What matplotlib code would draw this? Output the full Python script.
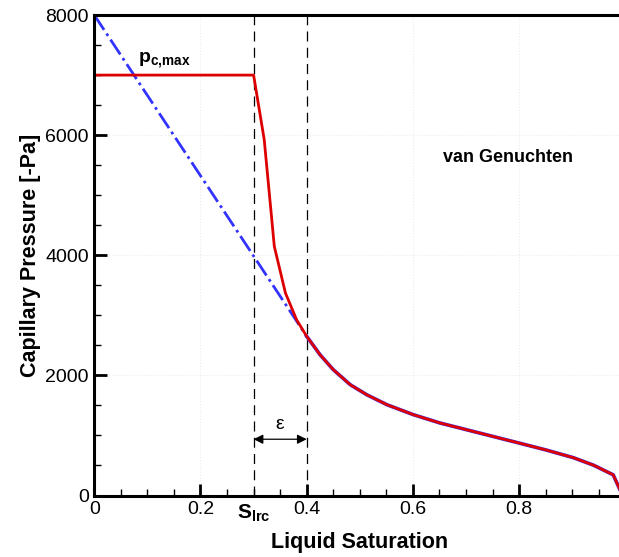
import numpy as np
from matplotlib import pyplot as plt
from matplotlib.ticker import MultipleLocator

plt.rcParams['font.family'] = ['Liberation Sans', 'DejaVu Sans']
plt.rcParams['mathtext.fontset'] = 'custom'
plt.rcParams['mathtext.rm'] = 'Liberation Sans'
plt.rcParams['mathtext.bf'] = 'Liberation Sans:bold'

# modified curve (red): capped at pc,max, steep ramp to the vG curve at S=0.4
s_mod = [0.0, 0.30, 0.320, 0.339, 0.360, 0.381, 0.40]
pc_mod = [7000, 7000, 5925, 4147, 3370, 2925, 2650]

# van Genuchten part
s_vg = [0.400, 0.425, 0.450, 0.482, 0.513, 0.551, 0.601, 0.651, 0.701,
        0.751, 0.800, 0.852, 0.902, 0.940, 0.977, 0.987, 0.995]
pc_vg = [2650, 2345, 2095, 1845, 1678, 1512, 1345, 1207, 1095,
         983, 873, 755, 630, 505, 345, 150, 0]

# linear extension (blue dash-dot)
s_lin = [0.0, 0.40]
pc_lin = [8000, 2650]

s_lrc = 0.3
s_eps = 0.4


def main():
    fig = plt.figure(figsize=(6.19, 5.57), dpi=100)
    # right edge of the frame lies just outside the picture (cropped original)
    ax = fig.add_axes([0.1523, 0.1104, 0.858, 0.8626])

    ax.grid(True, which='major', color='#ececec', ls=':', lw=0.8)
    ax.set_axisbelow(True)

    ax.axvline(s_lrc, color='k', ls=(0, (8, 5)), lw=0.9)
    ax.axvline(s_eps, color='k', ls=(0, (8, 5)), lw=0.9)

    ax.plot(s_lin, pc_lin, color='#3333ff', ls='-.', lw=2)
    ax.plot(s_vg, pc_vg, color='#3333ff', lw=2.6)
    ax.plot(s_mod + s_vg[1:], pc_mod + pc_vg[1:], color='#dd0000', lw=2.0)

    ax.annotate('', xy=(s_lrc, 937), xytext=(s_eps, 937),
                arrowprops=dict(arrowstyle='<|-|>', color='k', lw=0.9,
                                mutation_scale=14, shrinkA=0, shrinkB=0))
    ax.text(0.35, 1180, 'ε', fontsize=14, ha='center', va='center')

    ax.text(0.082, 7230, r'$\mathbf{p}_{\mathbf{c{,}max}}$', fontsize=14,
            ha='left', va='center')
    ax.text(0.656, 5633, 'van Genuchten', fontsize=13, fontweight='bold',
            ha='left', va='center')
    ax.text(s_lrc, -300, r'$\mathbf{S}_{\mathbf{lrc}}$', fontsize=15,
            ha='center', va='center', clip_on=False)

    ax.set_xlim(0, 1.0)
    ax.set_ylim(0, 8000)
    ax.xaxis.set_minor_locator(MultipleLocator(0.05))
    ax.yaxis.set_major_locator(MultipleLocator(2000))
    ax.yaxis.set_minor_locator(MultipleLocator(500))
    ax.set_xticks([0, 0.2, 0.4, 0.6, 0.8])
    ax.set_xticklabels(['0', '0.2', '0.4', '0.6', '0.8'])

    ax.tick_params(which='major', direction='in', length=9, width=2,
                   labelsize=14, pad=4)
    ax.tick_params(which='minor', direction='in', length=5, width=1)
    for sp in ax.spines.values():
        sp.set_linewidth(2.2)

    ax.set_xlabel('Liquid Saturation', fontsize=15.5, fontweight='bold', labelpad=10)
    ax.set_ylabel('Capillary Pressure [-Pa]', fontsize=15.5, fontweight='bold',
                  labelpad=3)

    fig.savefig('out.png', dpi=100)


main()
